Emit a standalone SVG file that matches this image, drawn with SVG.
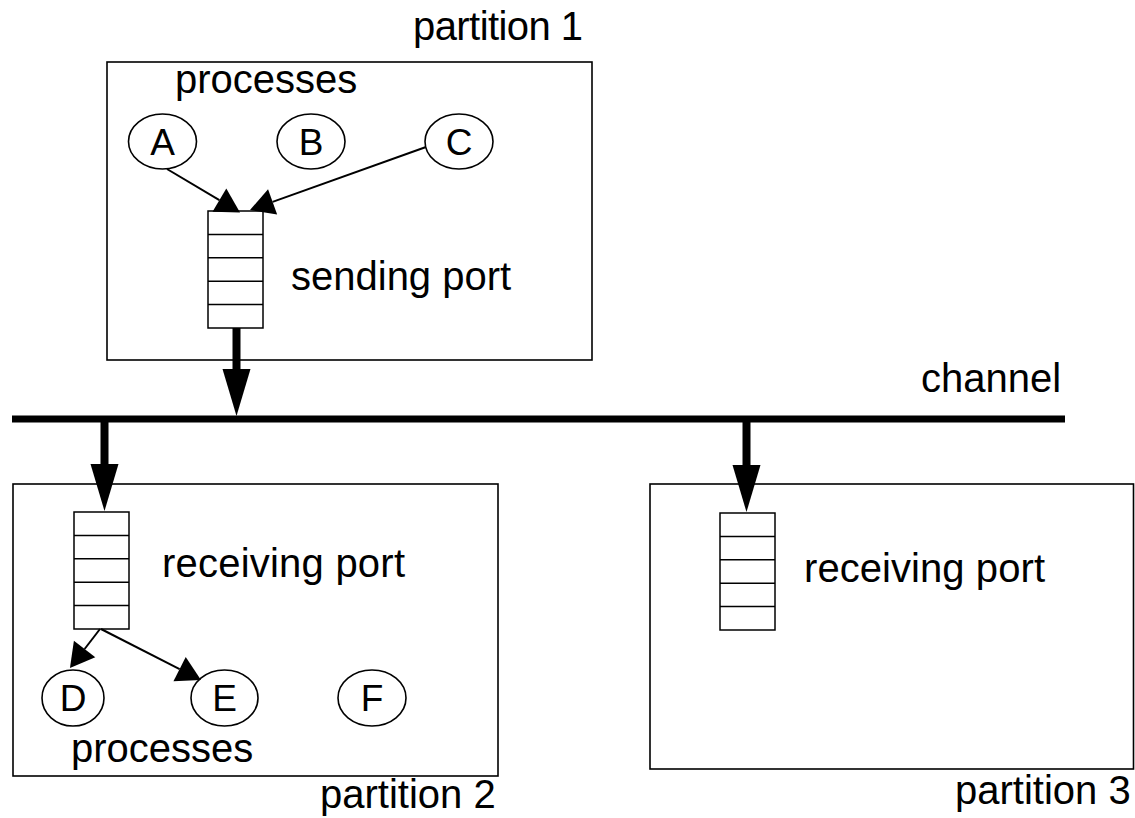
<svg xmlns="http://www.w3.org/2000/svg" width="1135" height="818" viewBox="0 0 1135 818">
  <style>
    .box { fill: none; stroke: #000; stroke-width: 1.6; }
    .queue { fill: #fff; stroke: #000; stroke-width: 1.5; }
    .cell { stroke: #000; stroke-width: 1.5; }
    .proc { fill: #fff; stroke: #000; stroke-width: 1.6; }
    .lbl { font-family: "Liberation Sans", Arial, Helvetica, sans-serif; font-size: 40px; fill: #000; }
    .pid { font-family: "Liberation Sans", Arial, Helvetica, sans-serif; font-size: 37px; fill: #000; text-anchor: middle; }
    .thin { fill: none; stroke: #000; stroke-width: 2; marker-end: url(#headThin); }
    .thick { fill: none; stroke: #000; stroke-width: 8; marker-end: url(#headThick); }
    .bus { stroke: #000; stroke-width: 7; }
  </style>
  <defs>
    <!-- arrowheads: refX=0 so the line ends at the base of the head -->
    <marker id="headThin" markerUnits="userSpaceOnUse" markerWidth="26" markerHeight="28" refX="0" refY="13.5" orient="auto" overflow="visible">
      <path d="M0,0 L24,13.5 L0,27 Z" fill="#000"/>
    </marker>
    <marker id="headThick" markerUnits="userSpaceOnUse" markerWidth="48" markerHeight="30" refX="0" refY="14" orient="auto" overflow="visible">
      <path d="M0,0 L47,14 L0,28 Z" fill="#000"/>
    </marker>
    <!-- five-slot message queue -->
    <g id="queueShape">
      <rect class="queue" x="0" y="0" width="55" height="117"/>
      <line class="cell" x1="0" y1="23.4" x2="55" y2="23.4"/>
      <line class="cell" x1="0" y1="46.8" x2="55" y2="46.8"/>
      <line class="cell" x1="0" y1="70.2" x2="55" y2="70.2"/>
      <line class="cell" x1="0" y1="93.6" x2="55" y2="93.6"/>
    </g>
  </defs>

  <rect width="1135" height="818" fill="#fff"/>

  <!-- partition 1 -->
  <g id="partition1">
    <rect class="box" x="107" y="62" width="485" height="298"/>
    <text class="lbl" x="413" y="40" textLength="170">partition 1</text>
    <text class="lbl" x="175" y="93">processes</text>
  </g>
  <g id="procA">
    <ellipse class="proc" cx="162.5" cy="141.5" rx="34" ry="27.5"/>
    <text class="pid" x="162.5" y="155">A</text>
  </g>
  <g id="procB">
    <ellipse class="proc" cx="311" cy="141.5" rx="34" ry="27.5"/>
    <text class="pid" x="311" y="155">B</text>
  </g>
  <g id="procC">
    <ellipse class="proc" cx="459" cy="141.5" rx="34" ry="27.5"/>
    <text class="pid" x="459" y="155">C</text>
  </g>
  <g id="sendingPort">
    <use href="#queueShape" x="208" y="211"/>
    <text class="lbl" x="291" y="290">sending port</text>
  </g>

  <!-- partition 2 -->
  <g id="partition2">
    <rect class="box" x="13" y="484" width="485" height="292"/>
    <text class="lbl" x="320" y="808">partition 2</text>
    <text class="lbl" x="71" y="762">processes</text>
  </g>
  <g id="receivingPort2">
    <use href="#queueShape" x="74" y="512"/>
    <text class="lbl" x="162" y="577" textLength="243">receiving port</text>
  </g>
  <g id="procD">
    <ellipse class="proc" cx="73" cy="698" rx="31" ry="28"/>
    <text class="pid" x="73" y="711">D</text>
  </g>
  <g id="procE">
    <ellipse class="proc" cx="224.5" cy="698" rx="33.5" ry="28"/>
    <text class="pid" x="224.5" y="711">E</text>
  </g>
  <g id="procF">
    <ellipse class="proc" cx="372" cy="698" rx="34" ry="28"/>
    <text class="pid" x="372" y="711">F</text>
  </g>

  <!-- partition 3 -->
  <g id="partition3">
    <rect class="box" x="650" y="484" width="483.5" height="285"/>
    <text class="lbl" x="955" y="804">partition 3</text>
  </g>
  <g id="receivingPort3">
    <use href="#queueShape" x="720" y="513"/>
    <text class="lbl" x="804" y="582" textLength="241">receiving port</text>
  </g>

  <!-- channel -->
  <g id="channel">
    <line class="bus" x1="12" y1="419" x2="1065" y2="419"/>
    <text class="lbl" x="921" y="392">channel</text>
  </g>

  <!-- connectors -->
  <g id="connectors">
    <line class="thin" x1="167" y1="169" x2="219.4" y2="200.2"/>
    <line class="thin" x1="426" y1="147" x2="272.6" y2="201.9"/>
    <line class="thick" x1="236.5" y1="328" x2="236.5" y2="369"/>
    <line class="thick" x1="104.5" y1="419" x2="104.5" y2="464"/>
    <line class="thick" x1="746.5" y1="419" x2="746.5" y2="465"/>
    <line class="thin" x1="100" y1="629" x2="84.6" y2="649"/>
    <line class="thin" x1="101" y1="629" x2="179.6" y2="669.1"/>
  </g>
</svg>
